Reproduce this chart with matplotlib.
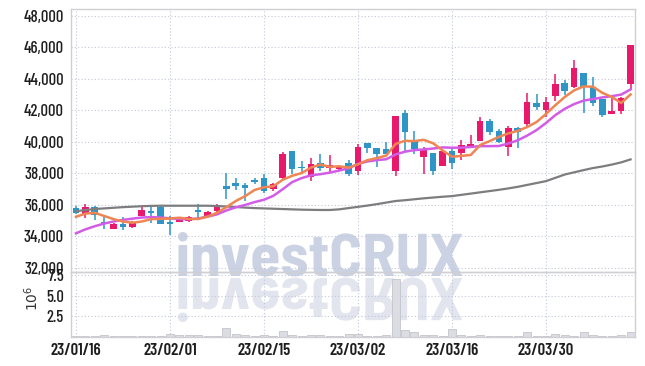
import matplotlib
matplotlib.use('Agg')
import matplotlib.pyplot as plt
import numpy as np
from matplotlib.textpath import TextPath
from matplotlib.patches import PathPatch
from matplotlib.font_manager import FontProperties
from matplotlib.transforms import Affine2D

plt.rcParams['font.family'] = ['Barlow Condensed', 'DejaVu Sans']

dates = ['23/01/16', '23/01/17', '23/01/18', '23/01/19', '23/01/20', '23/01/25', '23/01/26', '23/01/27', '23/01/30', '23/01/31',
         '23/02/01', '23/02/02', '23/02/03', '23/02/06', '23/02/07', '23/02/08', '23/02/09', '23/02/10', '23/02/13', '23/02/14',
         '23/02/15', '23/02/16', '23/02/17', '23/02/20', '23/02/21', '23/02/22', '23/02/23', '23/02/24', '23/02/27', '23/02/28',
         '23/03/02', '23/03/03', '23/03/06', '23/03/07', '23/03/08', '23/03/09', '23/03/10', '23/03/13', '23/03/14', '23/03/15',
         '23/03/16', '23/03/17', '23/03/20', '23/03/21', '23/03/22', '23/03/23', '23/03/24', '23/03/27', '23/03/28', '23/03/29',
         '23/03/30', '23/03/31', '23/04/03', '23/04/04', '23/04/05', '23/04/06', '23/04/07', '23/04/10', '23/04/11', '23/04/12']

opens = np.array([35800, 35400, 35900, 34900, 34500, 34800, 34600, 35300, 35590, 35900,
                  34900, 34920, 34950, 35650, 35280, 35600, 37200, 37420, 37280, 37600,
                  37730, 37000, 37700, 39420, 38400, 37750, 38630, 38350, 38310, 38680,
                  38180, 39910, 39630, 39520, 38150, 41820, 40070, 39050, 39270, 38450,
                  39400, 39270, 39750, 40070, 41340, 40690, 39690, 40900, 41110, 42480,
                  42020, 42930, 43750, 43500, 44390, 43460, 42700, 41770, 41970, 43650])
highs = np.array([35950, 36080, 35950, 35300, 34850, 35250, 34950, 35870, 35870, 35920,
                  35270, 35250, 35300, 36060, 35600, 36050, 38040, 37740, 37420, 37740,
                  37990, 37400, 39360, 39420, 38780, 38990, 39200, 39140, 38500, 38880,
                  39840, 39910, 39630, 40010, 41650, 42030, 40700, 39670, 39270, 39420,
                  39700, 40110, 40430, 41550, 41450, 40800, 41000, 40950, 43080, 43010,
                  42830, 44300, 43920, 45190, 44390, 44100, 42700, 42760, 42860, 46150])
lows = np.array([35450, 35190, 35060, 34480, 34450, 34420, 34550, 35300, 34870, 34790,
                 34100, 34900, 34900, 35170, 35250, 35580, 36380, 36940, 36240, 37350,
                 36760, 36900, 37650, 37990, 37990, 37510, 38140, 38040, 38200, 37820,
                 37930, 39270, 38420, 39200, 37820, 39420, 39200, 37970, 37930, 38450,
                 38250, 38840, 39690, 40070, 40430, 39900, 39100, 39590, 41000, 42020,
                 41560, 42590, 42970, 43400, 41810, 42270, 41560, 41770, 41750, 43290])
closes = np.array([35500, 35850, 35350, 34800, 34800, 34600, 34930, 35650, 35520, 34800,
                   34780, 35200, 35250, 35530, 35530, 36000, 37000, 37200, 37050, 37480,
                   36880, 37350, 39250, 38300, 38330, 38600, 38320, 38550, 38450, 37950,
                   39650, 39600, 39200, 39250, 41650, 40650, 39520, 39570, 38150, 39400,
                   38650, 39800, 39860, 41310, 40640, 40000, 40880, 40650, 42550, 42230,
                   42550, 43670, 43240, 44670, 43460, 42480, 41700, 41960, 42760, 46150])

ma5 = [35250, 35450, 35500, 35300, 35100, 34950, 34870, 34950, 35100, 35120,
       35140, 35190, 35110, 35110, 35260, 35500, 35860, 36250, 36560, 36950,
       37120, 37190, 37600, 37850, 38020, 38370, 38560, 38420, 38450, 38370,
       38580, 38840, 38970, 39130, 39870, 40070, 40050, 40130, 39910, 39460,
       39060, 39110, 39170, 39800, 40050, 40320, 40540, 40700, 40940, 41260,
       41770, 42330, 42850, 43270, 43520, 43500, 43110, 42850, 42470, 43010]
ma20 = [34200, 34450, 34650, 34820, 34950, 35050, 35130, 35200, 35230, 35200,
        35150, 35100, 35100, 35140, 35260, 35400, 35650, 35850, 36000, 36180,
        36330, 36580, 37000, 37450, 37700, 37880, 37950, 38050, 38180, 38330,
        38600, 38760, 38840, 38900, 39200, 39380, 39480, 39520, 39580, 39650,
        39630, 39630, 39680, 39730, 39730, 39740, 39900, 40100, 40400, 40750,
        41200, 41700, 42100, 42400, 42620, 42720, 42820, 42900, 43000, 43330]
ma60 = [35600, 35680, 35740, 35780, 35820, 35860, 35890, 35920, 35940, 35950,
        35950, 35950, 35950, 35950, 35950, 35930, 35900, 35870, 35830, 35800,
        35780, 35760, 35740, 35720, 35700, 35690, 35680, 35680, 35720, 35800,
        35880, 35960, 36050, 36150, 36250, 36300, 36360, 36420, 36470, 36520,
        36560, 36640, 36720, 36800, 36880, 36960, 37050, 37150, 37270, 37390,
        37510, 37720, 37930, 38070, 38210, 38340, 38440, 38560, 38700, 38890]

# volume in millions of shares
volume = [0.10, 0.12, 0.10, 0.20, 0.10, 0.10, 0.08, 0.10, 0.12, 0.15,
          0.35, 0.25, 0.20, 0.20, 0.12, 0.10, 1.10, 0.40, 0.25, 0.15,
          0.22, 0.15, 0.75, 0.30, 0.18, 0.20, 0.20, 0.18, 0.15, 0.35,
          0.35, 0.15, 0.15, 0.20, 7.00, 0.85, 0.65, 0.30, 0.22, 0.15,
          0.95, 0.30, 0.12, 0.22, 0.18, 0.10, 0.15, 0.10, 0.55, 0.18,
          0.12, 0.35, 0.25, 0.12, 0.65, 0.30, 0.12, 0.15, 0.22, 0.65]

price_ticks = [32000, 34000, 36000, 38000, 40000, 42000, 44000, 46000, 48000]
vol_ticks = [2.5, 5.0, 7.5]

UP = '#e8196b'
DOWN = '#2e95c6'
GRID = '#c3c8da'
SPINE = '#cfcfd4'

fig = plt.figure(figsize=(6.45, 3.66), dpi=100)
fig.patch.set_facecolor('white')
ax = fig.add_axes([71 / 645, 94 / 366, 564 / 645, 263 / 366])
axv = fig.add_axes([71 / 645, 29 / 366, 564 / 645, 65 / 366], sharex=ax)
for a in (ax, axv):
    a.set_facecolor('none')
    for s in a.spines.values():
        s.set_color(SPINE)
        s.set_linewidth(1.0)
    a.grid(True, color=GRID, linestyle=(0, (1, 2)), linewidth=0.8)
    a.set_axisbelow(True)
    a.tick_params(length=0, colors='#1e1e1e', labelsize=12)

# watermark with its reflection
fp = FontProperties(family='Barlow Semi Condensed', weight='bold')
tp = TextPath((0, 0), 'investCRUX', size=1, prop=fp)
bb = tp.get_extents()
sx = 284 / bb.width
sy = 44 / bb.y1
wm = PathPatch(tp, transform=Affine2D().translate(-bb.x0, 0).scale(sx, sy).translate(178, 366 - 276),
               fc='#cbd2e3', ec='none', zorder=-1)
wr = PathPatch(tp, transform=Affine2D().translate(-bb.x0, 0).scale(sx, -sy).translate(178, 366 - 278),
               fc='#e2e5ee', ec='none', zorder=-1)
fig.add_artist(wm)
fig.add_artist(wr)

x = np.arange(len(dates))
up = closes >= opens
colors = np.where(up, UP, DOWN)
body_bottom = np.minimum(opens, closes)
body_h = np.maximum(np.abs(closes - opens), 50)
ax.vlines(x, lows, highs, colors=colors, lw=1.1, zorder=2)
ax.bar(x, body_h, bottom=body_bottom, width=0.7, color=colors, lw=0, zorder=3)
ax.plot(x, ma60, color='#7d7d80', lw=1.6, zorder=4)
ax.plot(x, ma20, color='#d25ce6', lw=1.8, zorder=4)
ax.plot(x, ma5, color='#ee8552', lw=1.8, zorder=5)

ax.set_xlim(-0.53, 59.47)
ax.set_ylim(31746, 48430)
ax.set_yticks(price_ticks)
ax.set_yticklabels([f'{t:,}' for t in price_ticks], fontweight=500)
ax.tick_params(labelbottom=False, pad=5)

axv.bar(x, volume, width=0.85, color='#dcdce3', edgecolor='#c4c4cc', lw=0.6, zorder=2)
axv.set_ylim(0, 7.85)
axv.set_yticks(vol_ticks)
axv.set_yticklabels([f'{t:.1f}' for t in vol_ticks], fontweight=500)
axv.set_xticks(x[::10])
axv.set_xticklabels(dates[::10], fontweight=600, fontsize=12)
axv.tick_params(axis='x', pad=4)
axv.tick_params(axis='y', pad=5)
fig.text(32 / 645, (366 - 298) / 366, r'$10^6$', rotation=90, ha='center', va='center',
         fontsize=10, color='#333333')

fig.savefig('out.png', dpi=100)
